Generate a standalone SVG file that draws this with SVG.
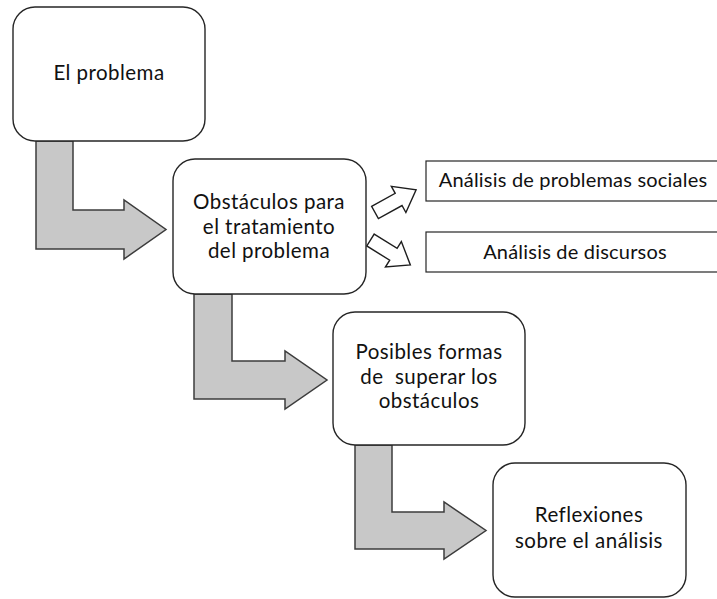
<svg xmlns="http://www.w3.org/2000/svg" width="717" height="599" viewBox="0 0 717 599">
<style>
.box{fill:#fff;stroke:#262626;stroke-width:1.4}
.rbox{fill:#fff;stroke:#262626;stroke-width:1.2}
.bent{fill:#c8c8c8;stroke:#3c3c3c;stroke-width:1.5;stroke-linejoin:miter}
.small{fill:#fff;stroke:#1e1e1e;stroke-width:1.4;stroke-linejoin:miter}
text{font-family:Lato,"Open Sans","Liberation Sans",sans-serif;fill:#111;text-anchor:middle}
.t{font-size:20.5px;letter-spacing:0.45px}
.s{font-size:20px;letter-spacing:0.2px}
</style>
<defs>
<polygon id="sa" points="0,-7 27,-7 27,-15 47,0 27,15 27,7 0,7"/>
</defs>
<rect width="717" height="599" fill="#fff"/>
<g id="connectors">
<polygon class="bent" points="36,141 73,141 73,210 124,210 124,200 166,229.5 124,259 124,249 36,249"/>
<polygon class="bent" points="194,294 232,294 232,361 285,361 285,351 327,380 285,409 285,399 194,399"/>
<polygon class="bent" points="355,445 392,445 392,512 444,512 444,502 486,530.5 444,559 444,549 355,549"/>
<use href="#sa" class="small" transform="translate(375,212.5) rotate(-29)"/>
<use href="#sa" class="small" transform="translate(370.5,240) rotate(32)"/>
</g>
<g id="n1">
<rect class="box" x="13" y="7" width="192" height="134" rx="22"/>
<text class="t" x="109" y="80">El problema</text>
</g>
<g id="n2">
<rect class="box" x="173" y="159" width="193" height="135" rx="22"/>
<text class="t" x="269" y="209">Obstáculos para</text>
<text class="t" x="269" y="234">el tratamiento</text>
<text class="t" x="269" y="258">del problema</text>
</g>
<g id="n3">
<rect class="box" x="333" y="312" width="192" height="133" rx="22"/>
<text class="t" x="429" y="359" xml:space="preserve">Posibles formas</text>
<text class="t" x="429" y="384" xml:space="preserve">de  superar los</text>
<text class="t" x="429" y="408">obstáculos</text>
</g>
<g id="n4">
<rect class="box" x="493" y="463" width="193" height="134" rx="22"/>
<text class="t" x="589" y="522">Reflexiones</text>
<text class="t" x="589" y="548">sobre el análisis</text>
</g>
<g id="nA">
<rect class="rbox" x="426" y="161" width="300" height="40"/>
<text class="s" x="573" y="187">Análisis de problemas sociales</text>
</g>
<g id="nB">
<rect class="rbox" x="426" y="232" width="300" height="40"/>
<text class="s" x="575" y="259">Análisis de discursos</text>
</g>
</svg>
